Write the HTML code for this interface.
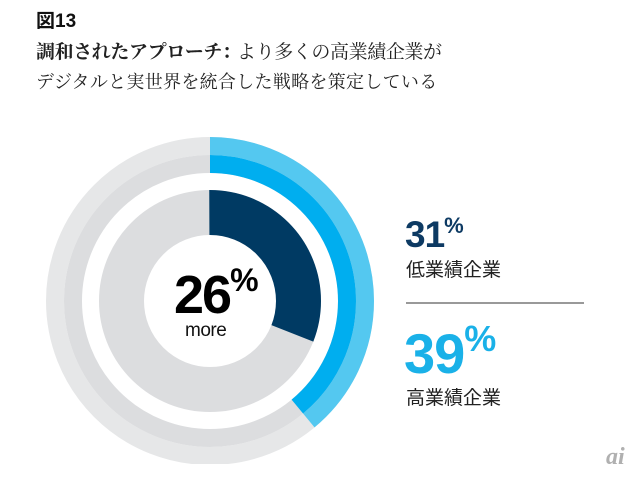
<!DOCTYPE html>
<html><head><meta charset="utf-8"><style>
html,body{margin:0;padding:0;background:#fff;width:638px;height:478px;overflow:hidden;position:relative}
.t{position:absolute;white-space:nowrap}
.s{font-family:"Liberation Serif","Noto Serif CJK SC",serif;color:#222}
.g{font-family:"Liberation Sans","Noto Sans CJK JP",sans-serif}
</style></head><body>
<div class="t g" style="left:36px;top:6px;font-size:19px;font-weight:bold;color:#111">図13</div>
<div class="t s" style="left:36px;top:37px;font-size:19px;letter-spacing:-0.4px"><b>調和されたアプローチ</b><b style="letter-spacing:-4px">：</b>より多くの高業績企業が</div>
<div class="t s" style="left:36px;top:68px;font-size:18px;letter-spacing:0.3px">デジタルと実世界を統合した戦略を策定している</div>
<svg width="638" height="478" style="position:absolute;left:0;top:0">
<defs><clipPath id="c"><rect x="0" y="0" width="638" height="464"/></clipPath></defs>
<g clip-path="url(#c)" fill="none">
<circle cx="210" cy="301" r="155" stroke="#e6e7e8" stroke-width="18"/>
<circle cx="210" cy="301" r="137" stroke="#dcdddf" stroke-width="18"/>
<circle cx="210" cy="301" r="155" stroke="#54c8f0" stroke-width="18" pathLength="100" stroke-dasharray="39 61" transform="rotate(-90 210 301)"/>
<circle cx="210" cy="301" r="137" stroke="#00aeef" stroke-width="18" pathLength="100" stroke-dasharray="39 61" transform="rotate(-90 210 301)"/>
<circle cx="210" cy="301" r="88.5" stroke="#dcdddf" stroke-width="45"/>
<circle cx="210" cy="301" r="88.5" stroke="#003a63" stroke-width="45" pathLength="100" stroke-dasharray="31 69" transform="rotate(-90 210 301)"/>
</g>
<line x1="406" y1="303" x2="584" y2="303" stroke="#999" stroke-width="2"/>
</svg>
<div class="t g" style="left:174px;top:262px;font-size:54px;font-weight:bold;color:#000;letter-spacing:-2px">26<span style="font-size:32px;vertical-align:22px;letter-spacing:0">%</span></div>
<div class="t g" style="left:185px;top:320px;font-size:19px;color:#111;letter-spacing:-0.5px">more</div>
<div class="t g" style="left:405px;top:213px;font-size:37px;font-weight:bold;color:#0d3a63;letter-spacing:-1px">31<span style="font-size:22px;vertical-align:14px;letter-spacing:0">%</span></div>
<div class="t g" style="left:406px;top:255px;font-size:19px;color:#222">低業績企業</div>
<div class="t g" style="left:404px;top:318px;font-size:56px;font-weight:bold;color:#1ab1e8;letter-spacing:-1px">39<span style="font-size:36px;vertical-align:22px;letter-spacing:0">%</span></div>
<div class="t g" style="left:406px;top:383px;font-size:19px;color:#222">高業績企業</div>
<div class="t s" style="left:606px;top:444px;font-size:24px;font-style:italic;font-weight:bold;color:#b0b0b0">ai</div>
</body></html>
